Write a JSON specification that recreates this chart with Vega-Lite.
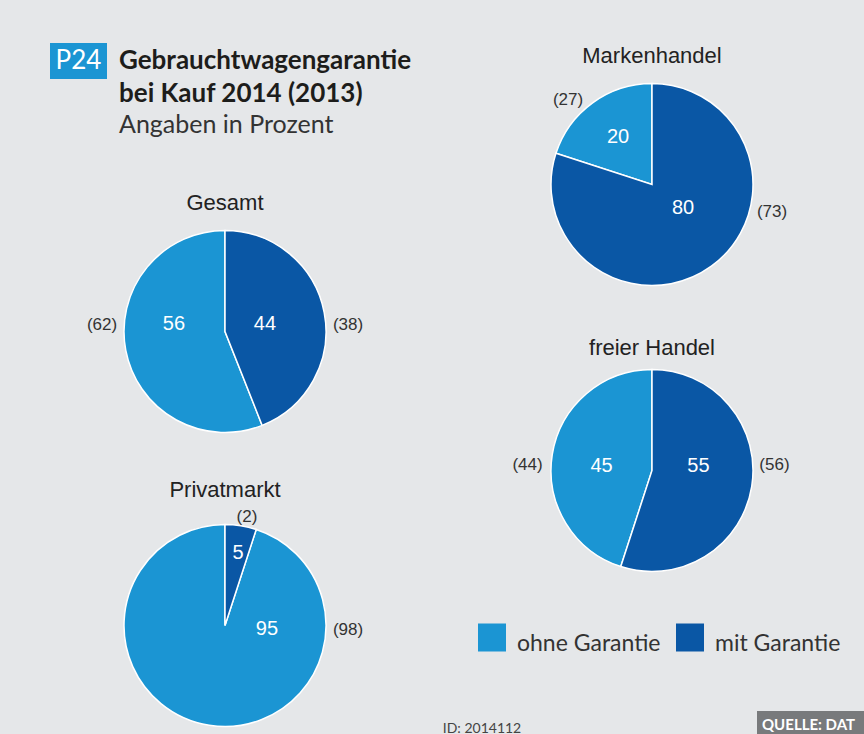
{
  "$schema": "https://vega.github.io/schema/vega-lite/v6.json",
  "background": "#e5e7e9",
  "padding": {"left": 50, "top": 43, "right": 0, "bottom": 0},
  "data": {"values": [
    {"gruppe": "Gesamt", "kat": "ohne Garantie", "p2014": 56, "p2013": 62},
    {"gruppe": "Gesamt", "kat": "mit Garantie", "p2014": 44, "p2013": 38},
    {"gruppe": "Privatmarkt", "kat": "ohne Garantie", "p2014": 95, "p2013": 98},
    {"gruppe": "Privatmarkt", "kat": "mit Garantie", "p2014": 5, "p2013": 2},
    {"gruppe": "Markenhandel", "kat": "ohne Garantie", "p2014": 20, "p2013": 27},
    {"gruppe": "Markenhandel", "kat": "mit Garantie", "p2014": 80, "p2013": 73},
    {"gruppe": "freier Handel", "kat": "ohne Garantie", "p2014": 45, "p2013": 44},
    {"gruppe": "freier Handel", "kat": "mit Garantie", "p2014": 55, "p2013": 56}
  ]},
  "config": {
    "view": {"stroke": null},
    "title": {"font": "Liberation Sans", "fontSize": 22, "fontWeight": "normal", "color": "#222222", "anchor": "middle", "frame": "group"},
    "text": {"font": "Liberation Sans"}
  },
  "spacing": 0,
  "hconcat": [
    {
      "spacing": 54,
      "vconcat": [
        {
          "spacing": 12,
          "hconcat": [
            {
              "width": 57, "height": 36,
              "view": {"fill": "#1b95d3", "stroke": null},
              "data": {"values": [{"nr": "P24"}]},
              "mark": {"type": "text", "font": "Lato", "fontSize": 26, "color": "#ffffff"},
              "encoding": {"text": {"field": "nr", "type": "nominal"}}
            },
            {
              "width": 321, "height": 1,
              "data": {"values": []},
              "mark": {"type": "text"},
              "encoding": {},
              "title": {
                "text": ["Gebrauchtwagengarantie", "bei Kauf 2014 (2013)"],
                "subtitle": "Angaben in Prozent",
                "orient": "bottom",
                "anchor": "start",
                "font": "Lato", "fontSize": 26, "fontWeight": "bold", "color": "#1d1d1b", "lineHeight": 33,
                "subtitleFont": "Lato", "subtitleFontSize": 25, "subtitleFontWeight": "normal", "subtitleColor": "#333333",
                "subtitlePadding": 6, "offset": 4
              }
            }
          ]
        },
        {
          "spacing": 36,
          "vconcat": [
            {
              "width": 350, "height": 223,
              "title": {"text": "Gesamt", "offset": 5},
              "transform": [{"filter": "datum.gruppe === 'Gesamt'"}, {"calculate": "'(' + datum.p2013 + ')'", "as": "vorjahr"}],
              "layer": [
                {"mark": {"type": "arc", "outerRadius": 101, "stroke": "#ffffff", "strokeWidth": 1.5},
                 "encoding": {
                   "theta": {"field": "p2014", "type": "quantitative", "stack": true},
                   "color": {"field": "kat", "type": "nominal", "scale": {"domain": ["ohne Garantie", "mit Garantie"], "range": ["#1b95d3", "#0a57a5"]}, "legend": null},
                   "order": {"field": "kat", "type": "nominal", "sort": "ascending"}
                 }},
                {"transform": [{"filter": "datum.kat === 'mit Garantie'"}], "mark": {"type": "text", "theta": 1.3975, "radius": 40.6, "fontSize": 20, "color": "#ffffff"}, "encoding": {"text": {"field": "p2014", "type": "quantitative"}}},
                {"transform": [{"filter": "datum.kat === 'ohne Garantie'"}], "mark": {"type": "text", "theta": -1.4343, "radius": 51.5, "fontSize": 20, "color": "#ffffff"}, "encoding": {"text": {"field": "p2014", "type": "quantitative"}}},
                {"transform": [{"filter": "datum.kat === 'mit Garantie'"}], "mark": {"type": "text", "theta": 1.514, "radius": 123.2, "fontSize": 17, "color": "#333333"}, "encoding": {"text": {"field": "vorjahr", "type": "nominal"}}},
                {"transform": [{"filter": "datum.kat === 'ohne Garantie'"}], "mark": {"type": "text", "theta": -1.514, "radius": 123.2, "fontSize": 17, "color": "#333333"}, "encoding": {"text": {"field": "vorjahr", "type": "nominal"}}}
              ]
            },
            {
              "width": 350, "height": 207,
              "title": {"text": "Privatmarkt", "offset": 6},
              "transform": [{"filter": "datum.gruppe === 'Privatmarkt'"}, {"calculate": "'(' + datum.p2013 + ')'", "as": "vorjahr"}],
              "layer": [
                {"mark": {"type": "arc", "outerRadius": 101, "stroke": "#ffffff", "strokeWidth": 1.5},
                 "encoding": {
                   "theta": {"field": "p2014", "type": "quantitative", "stack": true},
                   "color": {"field": "kat", "type": "nominal", "scale": {"domain": ["ohne Garantie", "mit Garantie"], "range": ["#1b95d3", "#0a57a5"]}, "legend": null},
                   "order": {"field": "kat", "type": "nominal", "sort": "ascending"}
                 }},
                {"transform": [{"filter": "datum.kat === 'mit Garantie'"}], "mark": {"type": "text", "theta": 0.1775, "radius": 73.7, "fontSize": 20, "color": "#ffffff"}, "encoding": {"text": {"field": "p2014", "type": "quantitative"}}},
                {"transform": [{"filter": "datum.kat === 'ohne Garantie'"}], "mark": {"type": "text", "theta": 1.6539, "radius": 42.1, "fontSize": 20, "color": "#ffffff"}, "encoding": {"text": {"field": "p2014", "type": "quantitative"}}},
                {"transform": [{"filter": "datum.kat === 'mit Garantie'"}], "mark": {"type": "text", "theta": 0.2, "radius": 110.7, "fontSize": 17, "color": "#333333"}, "encoding": {"text": {"field": "vorjahr", "type": "nominal"}}},
                {"transform": [{"filter": "datum.kat === 'ohne Garantie'"}], "mark": {"type": "text", "theta": 1.6074, "radius": 123.1, "fontSize": 17, "color": "#333333"}, "encoding": {"text": {"field": "vorjahr", "type": "nominal"}}}
              ]
            }
          ]
        }
      ]
    },
    {
      "spacing": 0,
      "vconcat": [
        {
          "width": 424, "height": 2,
          "data": {"values": []},
          "mark": {"type": "text"},
          "encoding": {}
        },
        {
          "spacing": 53,
          "vconcat": [
            {
              "spacing": 41,
              "vconcat": [
                {
                  "width": 424, "height": 223,
                  "title": {"text": "Markenhandel", "offset": 5},
                  "transform": [{"filter": "datum.gruppe === 'Markenhandel'"}, {"calculate": "'(' + datum.p2013 + ')'", "as": "vorjahr"}],
                  "layer": [
                    {"mark": {"type": "arc", "outerRadius": 101, "stroke": "#ffffff", "strokeWidth": 1.5},
                     "encoding": {
                       "theta": {"field": "p2014", "type": "quantitative", "stack": true},
                       "color": {"field": "kat", "type": "nominal", "scale": {"domain": ["ohne Garantie", "mit Garantie"], "range": ["#1b95d3", "#0a57a5"]}, "legend": null},
                       "order": {"field": "kat", "type": "nominal", "sort": "ascending"}
                     }},
                    {"transform": [{"filter": "datum.kat === 'mit Garantie'"}], "mark": {"type": "text", "theta": 2.219, "radius": 38.9, "fontSize": 20, "color": "#ffffff"}, "encoding": {"text": {"field": "p2014", "type": "quantitative"}}},
                    {"transform": [{"filter": "datum.kat === 'ohne Garantie'"}], "mark": {"type": "text", "theta": -0.6213, "radius": 58.4, "fontSize": 20, "color": "#ffffff"}, "encoding": {"text": {"field": "p2014", "type": "quantitative"}}},
                    {"transform": [{"filter": "datum.kat === 'mit Garantie'"}], "mark": {"type": "text", "theta": 1.796, "radius": 123.1, "fontSize": 17, "color": "#333333"}, "encoding": {"text": {"field": "vorjahr", "type": "nominal"}}},
                    {"transform": [{"filter": "datum.kat === 'ohne Garantie'"}], "mark": {"type": "text", "theta": -0.7824, "radius": 119.1, "fontSize": 17, "color": "#333333"}, "encoding": {"text": {"field": "vorjahr", "type": "nominal"}}}
                  ]
                },
                {
                  "width": 424, "height": 211,
                  "title": {"text": "freier Handel", "offset": 5},
                  "transform": [{"filter": "datum.gruppe === 'freier Handel'"}, {"calculate": "'(' + datum.p2013 + ')'", "as": "vorjahr"}],
                  "layer": [
                    {"mark": {"type": "arc", "outerRadius": 101, "stroke": "#ffffff", "strokeWidth": 1.5},
                     "encoding": {
                       "theta": {"field": "p2014", "type": "quantitative", "stack": true},
                       "color": {"field": "kat", "type": "nominal", "scale": {"domain": ["ohne Garantie", "mit Garantie"], "range": ["#1b95d3", "#0a57a5"]}, "legend": null},
                       "order": {"field": "kat", "type": "nominal", "sort": "ascending"}
                     }},
                    {"transform": [{"filter": "datum.kat === 'mit Garantie'"}], "mark": {"type": "text", "theta": 1.4743, "radius": 46.7, "fontSize": 20, "color": "#ffffff"}, "encoding": {"text": {"field": "p2014", "type": "quantitative"}}},
                    {"transform": [{"filter": "datum.kat === 'ohne Garantie'"}], "mark": {"type": "text", "theta": -1.4819, "radius": 50.7, "fontSize": 20, "color": "#ffffff"}, "encoding": {"text": {"field": "p2014", "type": "quantitative"}}},
                    {"transform": [{"filter": "datum.kat === 'mit Garantie'"}], "mark": {"type": "text", "theta": 1.5259, "radius": 122.6, "fontSize": 17, "color": "#333333"}, "encoding": {"text": {"field": "vorjahr", "type": "nominal"}}},
                    {"transform": [{"filter": "datum.kat === 'ohne Garantie'"}], "mark": {"type": "text", "theta": -1.5267, "radius": 124.6, "fontSize": 17, "color": "#333333"}, "encoding": {"text": {"field": "vorjahr", "type": "nominal"}}}
                  ]
                },
                {
                  "width": 424, "height": 41,
                  "transform": [{"filter": "datum.gruppe === 'Gesamt'"}],
                  "layer": [
                    {"mark": {"type": "square", "size": 784, "filled": true, "opacity": 1},
                     "encoding": {
                       "x": {"field": "kat", "type": "nominal", "scale": {"domain": ["ohne Garantie", "mit Garantie"], "range": [52, 250], "padding": 0}, "axis": null},
                       "color": {"field": "kat", "type": "nominal", "scale": {"domain": ["ohne Garantie", "mit Garantie"], "range": ["#1b95d3", "#0a57a5"]}, "legend": null}
                     }},
                    {"mark": {"type": "text", "align": "left", "baseline": "alphabetic", "dx": 25, "dy": 13.5, "font": "Lato", "fontSize": 23, "color": "#333333"},
                     "encoding": {
                       "x": {"field": "kat", "type": "nominal", "scale": {"domain": ["ohne Garantie", "mit Garantie"], "range": [52, 250], "padding": 0}, "axis": null},
                       "text": {"field": "kat", "type": "nominal"}
                     }}
                  ]
                }
              ]
            },
            {
              "spacing": 233,
              "hconcat": [
                {
                  "width": 84, "height": 25,
                  "data": {"values": [{"notiz": "ID: 2014112"}]},
                  "mark": {"type": "text", "font": "Lato", "fontSize": 14, "color": "#444444", "baseline": "alphabetic", "dy": 9},
                  "encoding": {"text": {"field": "notiz", "type": "nominal"}}
                },
                {
                  "width": 107, "height": 25,
                  "view": {"fill": "#787a7c", "stroke": null},
                  "data": {"values": [{"quelle": "QUELLE: DAT"}]},
                  "mark": {"type": "text", "font": "Lato", "fontSize": 15, "fontWeight": "bold", "color": "#ffffff", "align": "left", "baseline": "alphabetic", "dx": -48.5, "dy": 6},
                  "encoding": {"text": {"field": "quelle", "type": "nominal"}}
                }
              ]
            }
          ]
        }
      ]
    }
  ]
}
